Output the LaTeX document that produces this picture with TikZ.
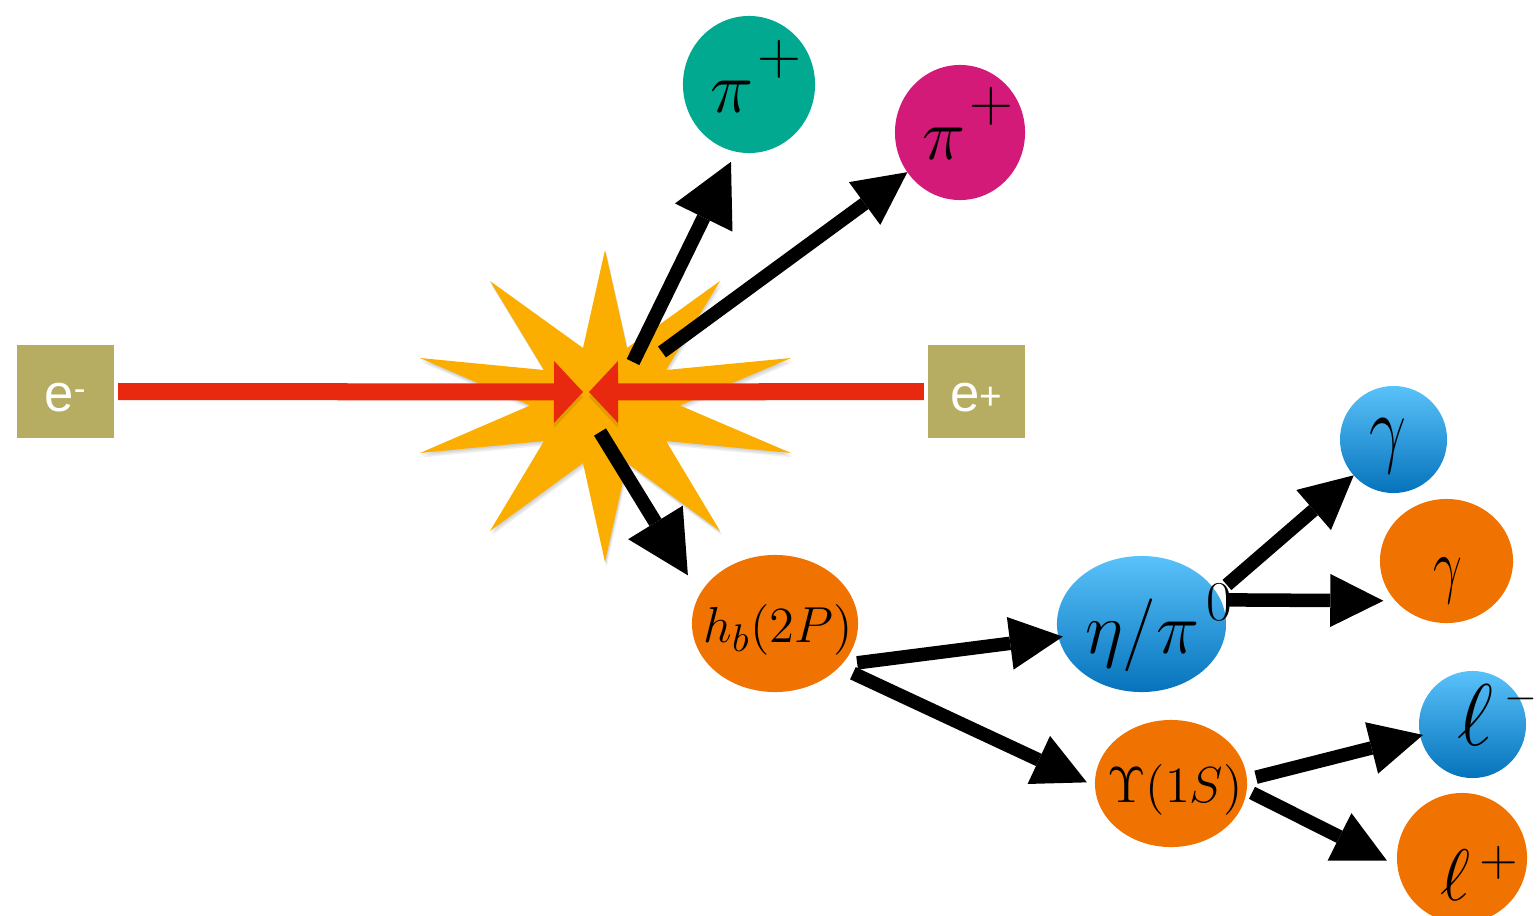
\documentclass[tikz,border=0pt]{standalone}
\usepackage{fontspec}
\newfontfamily\hvfont{Liberation Sans}
\usetikzlibrary{arrows.meta,shapes.geometric}
\definecolor{olivebox}{RGB}{182,173,98}
\definecolor{redarr}{RGB}{233,41,15}
\definecolor{starc}{RGB}{251,174,0}
\definecolor{tealc}{RGB}{0,169,143}
\definecolor{pinkc}{RGB}{212,26,120}
\definecolor{orangec}{RGB}{240,114,0}
\definecolor{bluetop}{RGB}{90,194,250}
\definecolor{bluebot}{RGB}{5,115,188}
\newcommand{\fsz}[1]{\fontsize{#1}{#1}\selectfont}
\newcommand{\piplus}{{\fsz{22}$\pi$}\hspace{0.04cm}\raisebox{0.37cm}{\fsz{16}$+$}}
\begin{document}
\begin{tikzpicture}[x=0.01cm,y=-0.01cm,
  ball/.style={ellipse, inner sep=0pt, outer sep=0pt, draw=none},
  oball/.style={ball, fill=orangec},
  bball/.style={ball, top color=bluetop, bottom color=bluebot},
  ebox/.style={rectangle, fill=olivebox, minimum width=0.97cm, minimum height=0.93cm, inner sep=0pt, outer sep=0pt},
  etext/.style={anchor=base, text=white, font=\hvfont\fsz{15}, inner sep=0pt},
  ptext/.style={inner sep=0pt, outer sep=0pt, text=black},
  redarrow/.style={draw=redarr, line width=0.17cm, -{Triangle[length=0.29cm,width=0.62cm,line width=0pt]},
    preaction={draw=black, opacity=0.10, transform canvas={yshift=-0.05cm}}},
  bigarrow/.style={draw=black, line width=0.14cm, -{Triangle[length=0.62cm,width=0.64cm,line width=0pt]}},
  smallarrow/.style={draw=black, line width=0.135cm, -{Triangle[length=0.53cm,width=0.53cm,line width=0pt]}},
  starshadow/.style={fill=black, opacity=0.06},
]
\fill[white] (0,0) rectangle (1537,915);
\useasboundingbox (0,0) rectangle (1537,915);

% explosion star: soft shadow layers, then star
\foreach \d in {1.5,3,4.5}{
\fill[starshadow, shift={(0.4*\d,\d)}] (605,250) -- (627,348) -- (720,281) -- (666,370) -- (791,358) -- (680,405.5) -- (791,453) -- (666,441) -- (720,531) -- (627,463) -- (605,562) -- (583,463) -- (490,531) -- (544,441) -- (420,453) -- (530,405.5) -- (420,358) -- (544,370) -- (490,281) -- (583,348) -- cycle;
}
\fill[starc] (605,250) -- (627,348) -- (720,281) -- (666,370) -- (791,358) -- (680,405.5) -- (791,453) -- (666,441) -- (720,531) -- (627,463) -- (605,562) -- (583,463) -- (490,531) -- (544,441) -- (420,453) -- (530,405.5) -- (420,358) -- (544,370) -- (490,281) -- (583,348) -- cycle;

% beam boxes
\node[ebox] (em) at (65.5,391.5) {};
\node[ebox] (ep) at (976.5,391.5) {};

% particles
\node[ball, fill=tealc, minimum width=1.32cm, minimum height=1.37cm] (pi1) at (749,84.5) {};
\node[ball, fill=pinkc, minimum width=1.30cm, minimum height=1.35cm] (pi2) at (960,132.5) {};
\node[oball, minimum width=1.66cm, minimum height=1.37cm] (hb) at (775,623.5) {};
\node[bball, minimum width=1.69cm, minimum height=1.36cm] (eta) at (1141.5,624) {};
\node[bball, minimum width=1.07cm, minimum height=1.07cm] (gB) at (1393.5,439.5) {};
\node[oball, minimum width=1.33cm, minimum height=1.24cm] (gO) at (1446.5,561) {};
\node[oball, minimum width=1.52cm, minimum height=1.27cm] (ups) at (1171,783.5) {};
\node[bball, minimum width=1.07cm, minimum height=1.07cm] (lm) at (1472.5,724.5) {};
\node[oball, minimum width=1.30cm, minimum height=1.30cm] (lp) at (1462,858) {};

% arrow start points at the collision
\coordinate (s1) at (633,362);
\coordinate (s2) at (662,352);
\coordinate (s3) at (600,432);
\coordinate (ip) at (586,392);

% beams
\draw[redarrow, shorten <=0.04cm, shorten >=0.03cm] (em.east) -- (ip);
\draw[redarrow, shorten <=0.04cm, shorten >=0.03cm] (ep.west) -- (ip);

% products
\draw[bigarrow, shorten >=0.113cm] (s1) -- (pi1.-101);
\draw[smallarrow] (s2) -- (pi2.217);
\draw[bigarrow, shorten >=0.226cm] (s3) -- (hb.159);
\draw[smallarrow, shorten <=0.16cm, shorten >=-0.043cm] (hb.-32) -- (eta.189);
\draw[smallarrow, shorten <=0.15cm, shorten >=0.09cm] (hb.-34) -- (ups.182);
\draw[smallarrow, shorten <=0.13cm] (eta.22) -- (gB.222);
\draw[smallarrow, shorten <=0.062cm, shorten >=0.122cm] (eta.17) -- (gO.218);
\draw[smallarrow, shorten <=0.094cm, shorten >=-0.029cm] (ups.3) -- (lm.192);
\draw[smallarrow, shorten <=0.06cm, shorten >=0.118cm] (ups.-5) -- (lp.187);

% labels
\node[etext] (emt) at (65,411) {e\raisebox{0.105cm}{\fsz{10}-}};
\node[etext] (ept) at (976.5,411) {e\raisebox{0.02cm}{\fsz{11}+}};
\node[ptext, anchor=base west] (pi1t) at (710,112) {\piplus};
\node[ptext, anchor=base west] (pi2t) at (922,159) {\piplus};
\node[ptext, anchor=base] (hbt) at (778,642) {\fsz{15.5}$h_b(2P)$};
\node[ptext, anchor=base west] (etat) at (1085,653) {{\fsz{20}$\eta/\pi$}\hspace{0.07cm}\raisebox{0.32cm}{\fsz{16}0}};
\node[ptext] (gBt) at (1387.5,446.5) {\scalebox{0.75}[1]{\fsz{24}$\gamma$}};
\node[ptext] (gOt) at (1447.5,581) {\scalebox{0.7}[1]{\fsz{20}$\gamma$}};
\node[ptext, anchor=base] (upst) at (1175,802) {\fsz{15}$\Upsilon(1S)$};
\node[ptext, anchor=base west] (lmt) at (1457,745) {{\fsz{25}$\ell$}\hspace{0.12cm}\raisebox{0.35cm}{\fsz{13}$-$}};
\node[ptext, anchor=base west] (lpt) at (1440,900) {{\fsz{21}$\ell$}\hspace{0.09cm}\raisebox{0.25cm}{\fsz{14}$+$}};
\end{tikzpicture}
\end{document}
